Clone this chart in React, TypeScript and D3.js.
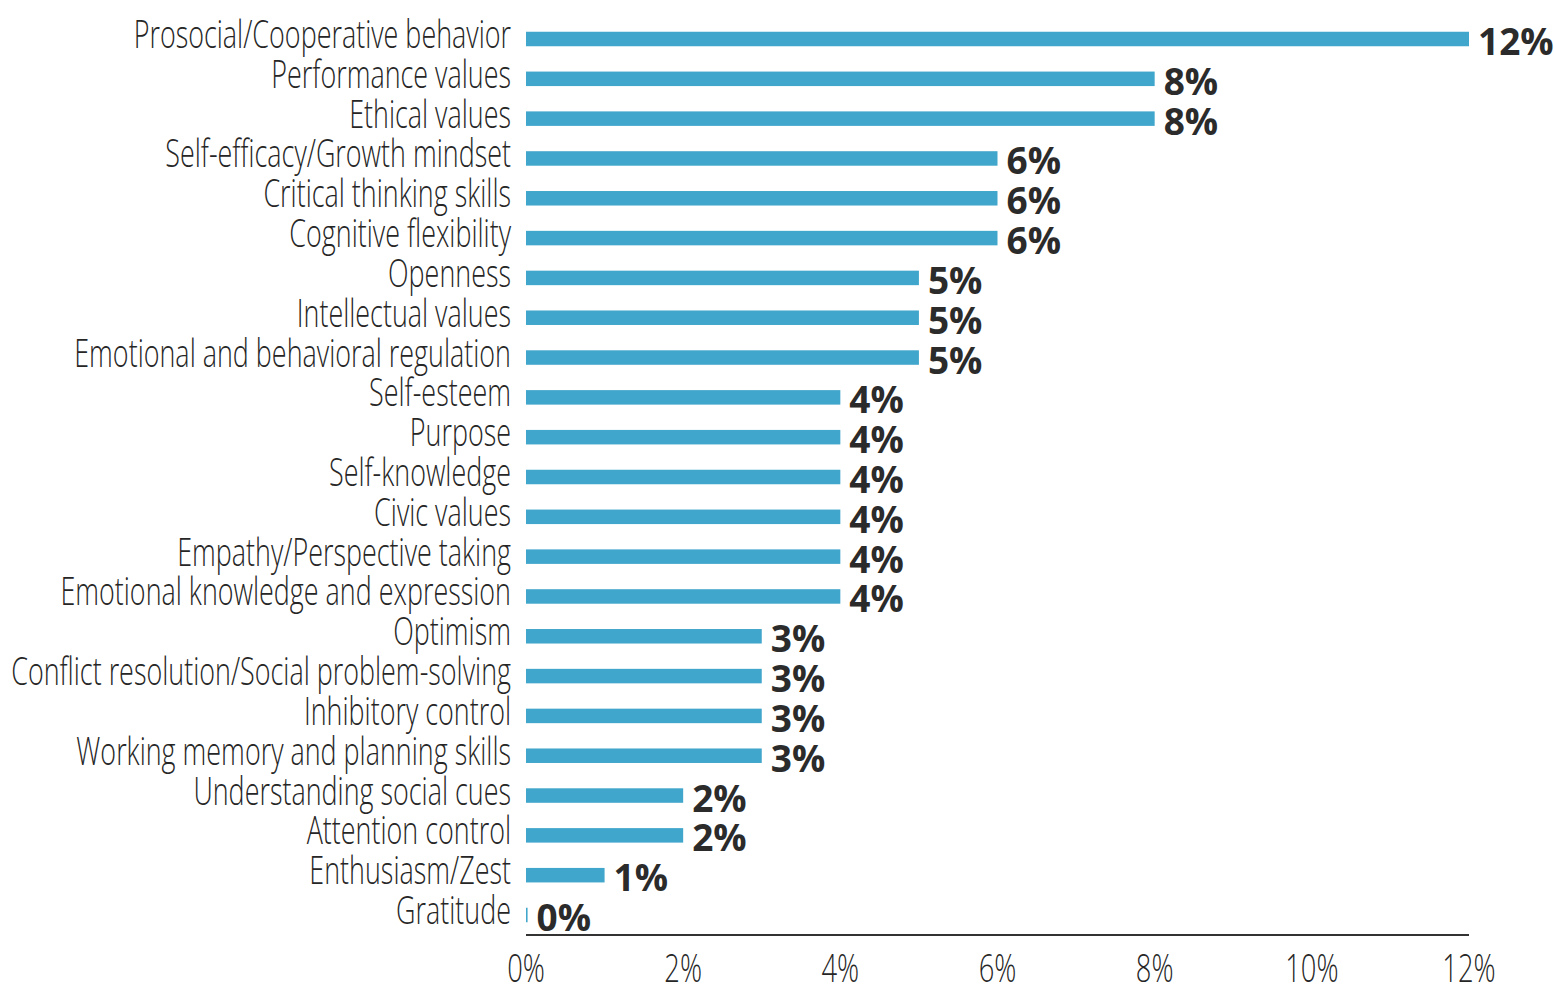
import React from "react";
import * as d3 from "d3";

const categories = [
  "Prosocial/Cooperative behavior",
  "Performance values",
  "Ethical values",
  "Self-efficacy/Growth mindset",
  "Critical thinking skills",
  "Cognitive flexibility",
  "Openness",
  "Intellectual values",
  "Emotional and behavioral regulation",
  "Self-esteem",
  "Purpose",
  "Self-knowledge",
  "Civic values",
  "Empathy/Perspective taking",
  "Emotional knowledge and expression",
  "Optimism",
  "Conflict resolution/Social problem-solving",
  "Inhibitory control",
  "Working memory and planning skills",
  "Understanding social cues",
  "Attention control",
  "Enthusiasm/Zest",
  "Gratitude",
];

const values = [12, 8, 8, 6, 6, 6, 5, 5, 5, 4, 4, 4, 4, 4, 4, 3, 3, 3, 3, 2, 2, 1, 0.02];

const xTicks = [0, 2, 4, 6, 8, 10, 12];

const W = 1554;
const H = 988;
const LABEL_FONT = "'Open Sans', sans-serif";

export default function App() {
  const x = d3.scaleLinear().domain([0, 12]).range([526, 1469]);
  const y = d3.scalePoint<string>().domain(categories).range([39, 915]);
  const barH = 14.5;
  const condensed = 0.69;

  return (
    <svg
      width={W}
      height={H}
      style={{ position: "absolute", left: 0, top: 0, background: "#fff" }}
    >
      {categories.map((c, i) => {
        const cy = y(c) as number;
        const v = values[i];
        const lx = 511;
        return (
          <g key={c}>
            <text
              transform={`translate(${lx},${cy + 9}) scale(${condensed},1)`}
              textAnchor="end"
              fontFamily={LABEL_FONT}
              fontWeight={300}
              fontSize={39}
              fill="#262626"
            >
              {c}
            </text>
            <rect
              x={x(0)}
              y={cy - barH / 2}
              width={Math.max(0, x(v) - x(0))}
              height={barH}
              fill="#41a6cb"
            />
            <text
              x={x(v) + 9}
              y={cy + 16}
              fontFamily={LABEL_FONT}
              fontWeight={700}
              fontSize={37}
              fill="#2b2b2b"
            >
              {`${Math.round(v)}%`}
            </text>
          </g>
        );
      })}
      <line x1={x(0)} x2={x(12)} y1={935} y2={935} stroke="#333" strokeWidth={2} />
      {xTicks.map((t) => (
        <text
          key={t}
          transform={`translate(${x(t)},982) scale(0.72,1)`}
          textAnchor="middle"
          fontFamily={LABEL_FONT}
          fontWeight={300}
          fontSize={38}
          fill="#262626"
        >
          {`${t}%`}
        </text>
      ))}
    </svg>
  );
}
